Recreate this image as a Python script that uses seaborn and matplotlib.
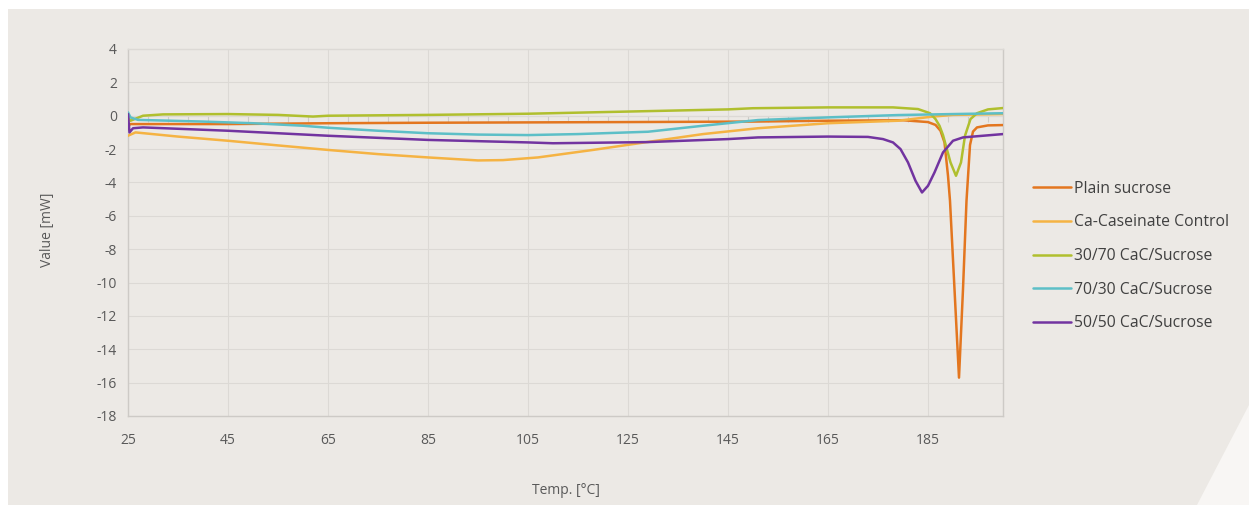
import numpy as np
import pandas as pd
import matplotlib
matplotlib.use("Agg")
import matplotlib.pyplot as plt
from matplotlib.patches import Polygon
import seaborn as sns

# DSC heat-flow curves: temperature (°C) vs heat flow (mW)
plain_t = [25.0, 25.4, 27, 35, 45, 65, 85, 105, 125, 150, 165, 180, 185, 186.5, 187.5,
           188.3, 189.0, 189.4, 190.3, 191.2, 192.0, 192.7, 193.4, 194.0, 194.8, 197, 200]
plain_v = [-0.7, -0.5, -0.5, -0.5, -0.5, -0.45, -0.42, -0.4, -0.38, -0.35, -0.3, -0.27, -0.38, -0.55, -0.9,
           -1.6, -3.6, -5.1, -10.4, -15.7, -10.4, -5.1, -1.76, -0.95, -0.7, -0.58, -0.56]

casein_t = [25.0, 26.5, 35, 45, 55, 65, 75, 85, 95, 100, 107, 118, 129, 140, 151, 165, 179, 186, 190, 200]
casein_v = [-1.2, -1.0, -1.25, -1.5, -1.78, -2.05, -2.3, -2.5, -2.68, -2.66, -2.5, -2.05, -1.57, -1.1,
            -0.75, -0.45, -0.3, -0.05, 0.05, 0.1]

mix3070_t = [25.0, 25.5, 28, 32, 45, 55, 62, 65, 85, 105, 125, 145, 150, 165, 178, 183, 185.4,
             186.5, 187.3, 188.0, 189.5, 190.6, 191.6, 192.4, 193.5, 194.8, 197, 200]
mix3070_v = [-0.1, -0.3, 0.0, 0.08, 0.1, 0.05, -0.05, 0.0, 0.05, 0.12, 0.25, 0.38, 0.45, 0.5, 0.5, 0.4, 0.15,
             -0.2, -0.6, -1.16, -2.8, -3.6, -2.8, -1.2, -0.2, 0.15, 0.38, 0.46]

mix7030_t = [25.0, 25.5, 27, 40, 50, 60, 65, 75, 85, 95, 105, 115, 125, 129, 140, 151, 165, 179, 190, 200]
mix7030_v = [0.2, -0.1, -0.25, -0.35, -0.45, -0.6, -0.72, -0.9, -1.05, -1.13, -1.16, -1.1, -1.0, -0.96,
             -0.6, -0.26, -0.1, 0.04, 0.1, 0.15]

mix5050_t = [25.0, 25.3, 26, 28, 45, 65, 85, 105, 110, 129, 145, 151, 165, 173, 176, 178, 179.5, 181,
             182.5, 183.8, 185.0, 186.3, 188.0, 190.0, 192.0, 196, 200]
mix5050_v = [0.1, -1.0, -0.75, -0.7, -0.9, -1.2, -1.45, -1.6, -1.65, -1.58, -1.4, -1.3, -1.25, -1.27, -1.4,
             -1.6, -2.0, -2.8, -3.9, -4.6, -4.2, -3.4, -2.2, -1.5, -1.3, -1.2, -1.1]

series_names = ["Plain sucrose", "Ca-Caseinate Control", "30/70 CaC/Sucrose",
                "70/30 CaC/Sucrose", "50/50 CaC/Sucrose"]
series_colors = ["#e3761f", "#f5b343", "#b0bf2e", "#5dbfc7", "#7234a0"]

x_ticks = [25, 45, 65, 85, 105, 125, 145, 165, 185]
y_ticks = [4, 2, 0, -2, -4, -6, -8, -10, -12, -14, -16, -18]

frames = []
for name, t, v in zip(series_names,
                      [plain_t, casein_t, mix3070_t, mix7030_t, mix5050_t],
                      [plain_v, casein_v, mix3070_v, mix7030_v, mix5050_v]):
    frames.append(pd.DataFrame({"Temp": t, "Value": v, "Sample": name}))
df = pd.concat(frames, ignore_index=True)

sns.set_theme(style="white")
plt.rcParams["font.family"] = ["Open Sans", "DejaVu Sans"]
plt.rcParams["axes.unicode_minus"] = False

bg = "#ece9e5"
W, H = 1249, 505
fig = plt.figure(figsize=(W / 100, H / 100), dpi=100, facecolor="white")

# beige panel behind the whole chart
fig.patches.append(plt.Rectangle((8 / W, 0), 1 - 8 / W, 1 - 9 / H, transform=fig.transFigure,
                                 facecolor=bg, edgecolor="none", zorder=-10))
# white corner accent
fig.patches.append(Polygon([(1249 / W, 1 - 405 / H), (1197 / W, 0), (1, 0)], closed=True,
                           transform=fig.transFigure, facecolor="#f8f6f4", edgecolor="none", zorder=-9))

ax = fig.add_axes([128 / W, 1 - 416 / H, (1003 - 128) / W, (416 - 49) / H])
ax.set_facecolor(bg)

sns.lineplot(data=df, x="Temp", y="Value", hue="Sample", hue_order=series_names,
             palette=series_colors, sort=False, estimator=None, units="Sample",
             linewidth=1.8, ax=ax, legend=True)

ax.set_xlim(25, 200)
ax.set_ylim(-18, 4)
ax.set_xticks(x_ticks)
ax.set_yticks(y_ticks)
ax.tick_params(axis="both", length=0, labelsize=10, colors="#595959", pad=8)
ax.tick_params(axis="x", pad=12)
ax.grid(True, color="#dcd9d5", linewidth=0.8)
for side in ["left", "right", "bottom", "top"]:
    ax.spines[side].set_color("#cdcac6")
    ax.spines[side].set_linewidth(1.0)
ax.spines["top"].set_color("#dcd9d5")

# horizontal axis line at zero with small tick marks
axz = ax.twiny()
axz.set_xlim(ax.get_xlim())
for side in ["left", "right", "top"]:
    axz.spines[side].set_visible(False)
axz.spines["bottom"].set_position(("data", 0))
axz.spines["bottom"].set_color("#cfccc8")
axz.spines["bottom"].set_linewidth(0.8)
axz.xaxis.set_ticks_position("bottom")
axz.set_xticks(np.arange(25, 201, 4))
axz.tick_params(axis="x", direction="out", length=4, width=0.8, color="#cfccc8", labelbottom=False)
axz.set_zorder(ax.get_zorder() - 1)
ax.patch.set_visible(False)
axz.patch.set_facecolor(bg)
for l in ax.get_lines():
    l.set_zorder(3)

ax.set_xlabel("")
ax.set_ylabel("")
fig.text(48 / W, 1 - 230 / H, "Value [mW]", rotation=90, ha="center", va="center",
         fontsize=10, color="#595959")
fig.text(566 / W, 1 - 491 / H, "Temp. [°C]", ha="center", va="center", fontsize=10, color="#595959")

handles, labels = ax.get_legend_handles_labels()
ax.legend(handles, labels, loc="center left", bbox_to_anchor=(1033 / W, 1 - 256 / H),
          bbox_transform=fig.transFigure, frameon=False, fontsize=11.3, labelcolor="#404040",
          handlelength=2.4, handletextpad=0.2, labelspacing=1.13, borderpad=0, borderaxespad=0)

fig.savefig("out.png", dpi=100, facecolor="white")
